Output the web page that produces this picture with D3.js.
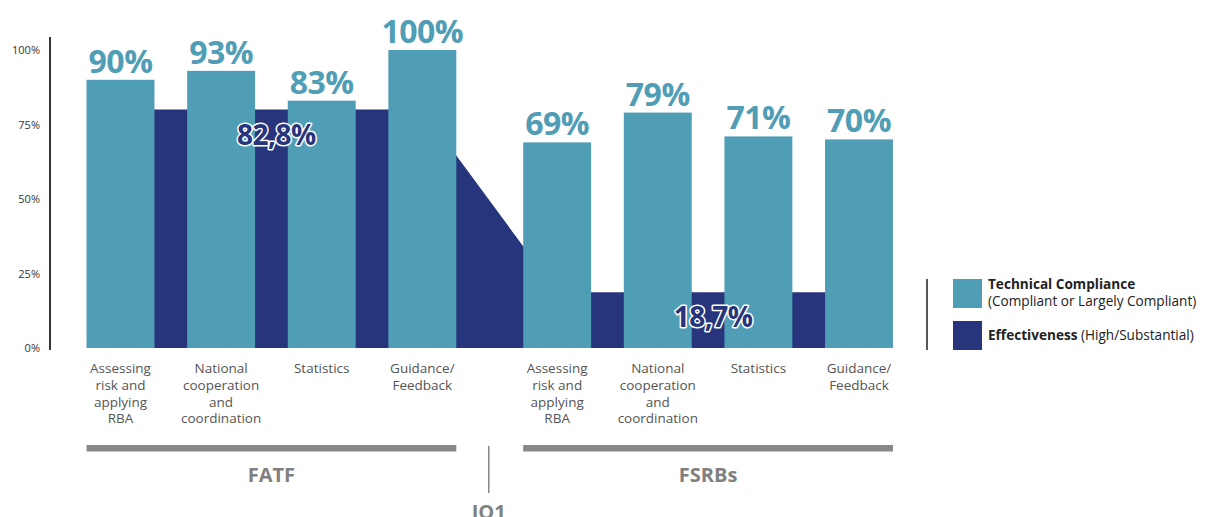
<!DOCTYPE html>
<html>
<head>
<meta charset="utf-8">
<script src="https://cdn.jsdelivr.net/npm/d3@7/dist/d3.min.js"></script>
<style>
  html, body { margin: 0; padding: 0; background: #fff; }
  svg { display: block; font-family: "Open Sans", "DejaVu Sans", sans-serif; }
</style>
</head>
<body>
<svg id="chart" width="1213" height="517"></svg>
<script>
// ---- data ----
const groups = ["FATF", "FSRBs"];
const categories = [
  ["Assessing", "risk and", "applying", "RBA"],
  ["National", "cooperation", "and", "coordination"],
  ["Statistics"],
  ["Guidance/", "Feedback"]
];
const technicalFATF = [90, 93, 83, 100];
const technicalFSRB = [69, 79, 71, 70];
const effectivenessLevel = [80, 18.7];     // drawn level per group
const effectivenessLabels = ["82,8%", "18,7%"];
const yTicks = [0, 25, 50, 75, 100];
const legendItems = [
  { bold: "Technical Compliance", rest: "", line2: "(Compliant or Largely Compliant)", key: "tc" },
  { bold: "Effectiveness", rest: " (High/Substantial)", line2: "", key: "eff" }
];
const dividerLabel = "IO1";

// ---- setup ----
const svg = d3.select("#chart");
const teal = "#509db6", dark = "#27357c", grey = "#888888";

const y = d3.scaleLinear().domain([0, 100]).range([348, 50]);
// slot positions: FATF 0..3, FSRBs 4..7 with an extra group gap
const groupGap = 0.34;
const pos = (g, i) => i + g * (4 + groupGap);
const x = d3.scaleLinear().domain([0, 3 + 4 + groupGap]).range([120.5, 859]);
const unit = x(1) - x(0);
const barW = unit * 0.675;

const rows = [];
[technicalFATF, technicalFSRB].forEach((arr, g) => arr.forEach((v, i) => rows.push({ g, i, v, p: pos(g, i) })));

// effectiveness area through bar centres
const effPts = rows.map(r => ({ p: r.p, v: effectivenessLevel[r.g] }));
const area = d3.area().x(d => x(d.p)).y0(y(0)).y1(d => y(d.v));
svg.append("path").datum(effPts).attr("d", area).attr("fill", dark);

// technical compliance bars
svg.append("g").selectAll("rect").data(rows).join("rect")
  .attr("x", d => x(d.p) - barW / 2)
  .attr("width", barW)
  .attr("y", d => y(d.v))
  .attr("height", d => y(0) - y(d.v))
  .attr("fill", teal);

// value labels
svg.append("g").selectAll("text").data(rows).join("text")
  .attr("x", d => x(d.p))
  .attr("y", d => y(d.v) - 7)
  .attr("text-anchor", "middle")
  .attr("font-size", 32)
  .attr("font-weight", 700)
  .attr("fill", teal)
  .attr("letter-spacing", -0.5)
  .text(d => d.v + "%");

// effectiveness labels
effectivenessLabels.forEach((t, g) => {
  svg.append("text")
    .attr("x", x(pos(g, 1.55)))
    .attr("y", y(effectivenessLevel[g]) + 35)
    .attr("text-anchor", "middle")
    .attr("font-size", 28)
    .attr("font-weight", 700)
    .attr("fill", dark)
    .attr("stroke", "#fff")
    .attr("stroke-width", 3)
    .attr("paint-order", "stroke")
    .attr("stroke-linejoin", "round")
    .attr("letter-spacing", -0.5)
    .text(t);
});

// y axis
const yAxis = d3.axisLeft(y).tickValues(yTicks).tickFormat(d => d + "%").tickSize(0).tickPadding(10);
const ax = svg.append("g").attr("transform", "translate(50,0)").call(yAxis);
ax.select(".domain").remove();
ax.selectAll("text").attr("font-size", 11).attr("fill", "#333").attr("font-family", "'Open Sans', sans-serif");
svg.append("line").attr("x1", 50).attr("x2", 50).attr("y1", 37).attr("y2", 350)
  .attr("stroke", "#333").attr("stroke-width", 2);

// category labels
rows.forEach(r => {
  const t = svg.append("text")
    .attr("x", x(r.p))
    .attr("y", 373)
    .attr("text-anchor", "middle")
    .attr("font-size", 13.5)
    .attr("fill", "#555");
  categories[r.i].forEach((line, k) => {
    t.append("tspan").attr("x", x(r.p)).attr("dy", k === 0 ? 0 : 16.8).text(line);
  });
});

// group bars and labels
groups.forEach((gname, g) => {
  const x0 = x(pos(g, 0)) - barW / 2, x1 = x(pos(g, 3)) + barW / 2;
  svg.append("rect").attr("x", x0).attr("y", 445).attr("width", x1 - x0).attr("height", 6.5).attr("fill", grey);
  svg.append("text").attr("x", (x0 + x1) / 2).attr("y", 482)
    .attr("text-anchor", "middle").attr("font-size", 20).attr("font-weight", 700)
    .attr("fill", "#808080").text(gname);
});
const divX = (x(pos(0, 3)) + x(pos(1, 0))) / 2 - 1;
svg.append("line").attr("x1", divX).attr("x2", divX).attr("y1", 446).attr("y2", 493)
  .attr("stroke", "#888").attr("stroke-width", 1.5);
svg.append("text").attr("x", divX).attr("y", 519).attr("text-anchor", "middle")
  .attr("font-size", 20).attr("font-weight", 700).attr("fill", "#808080").text(dividerLabel);

// legend
const lg = svg.append("g");
lg.append("line").attr("x1", 927).attr("x2", 927).attr("y1", 279).attr("y2", 350)
  .attr("stroke", "#222").attr("stroke-width", 1.5);
legendItems.forEach((it, k) => {
  const yy = 279 + k * 42;
  lg.append("rect").attr("x", 953).attr("y", yy).attr("width", 29).attr("height", 29)
    .attr("fill", it.key === "tc" ? teal : dark);
  const t = lg.append("text").attr("x", 988).attr("y", yy + (it.line2 ? 10 : 19))
    .attr("font-size", 13.6).attr("fill", "#222");
  t.append("tspan").attr("font-weight", 700).text(it.bold);
  if (it.rest) t.append("tspan").text(it.rest);
  if (it.line2) lg.append("text").attr("x", 988).attr("y", yy + 27)
    .attr("font-size", 13.6).attr("fill", "#222").text(it.line2);
});
</script>
</body>
</html>
